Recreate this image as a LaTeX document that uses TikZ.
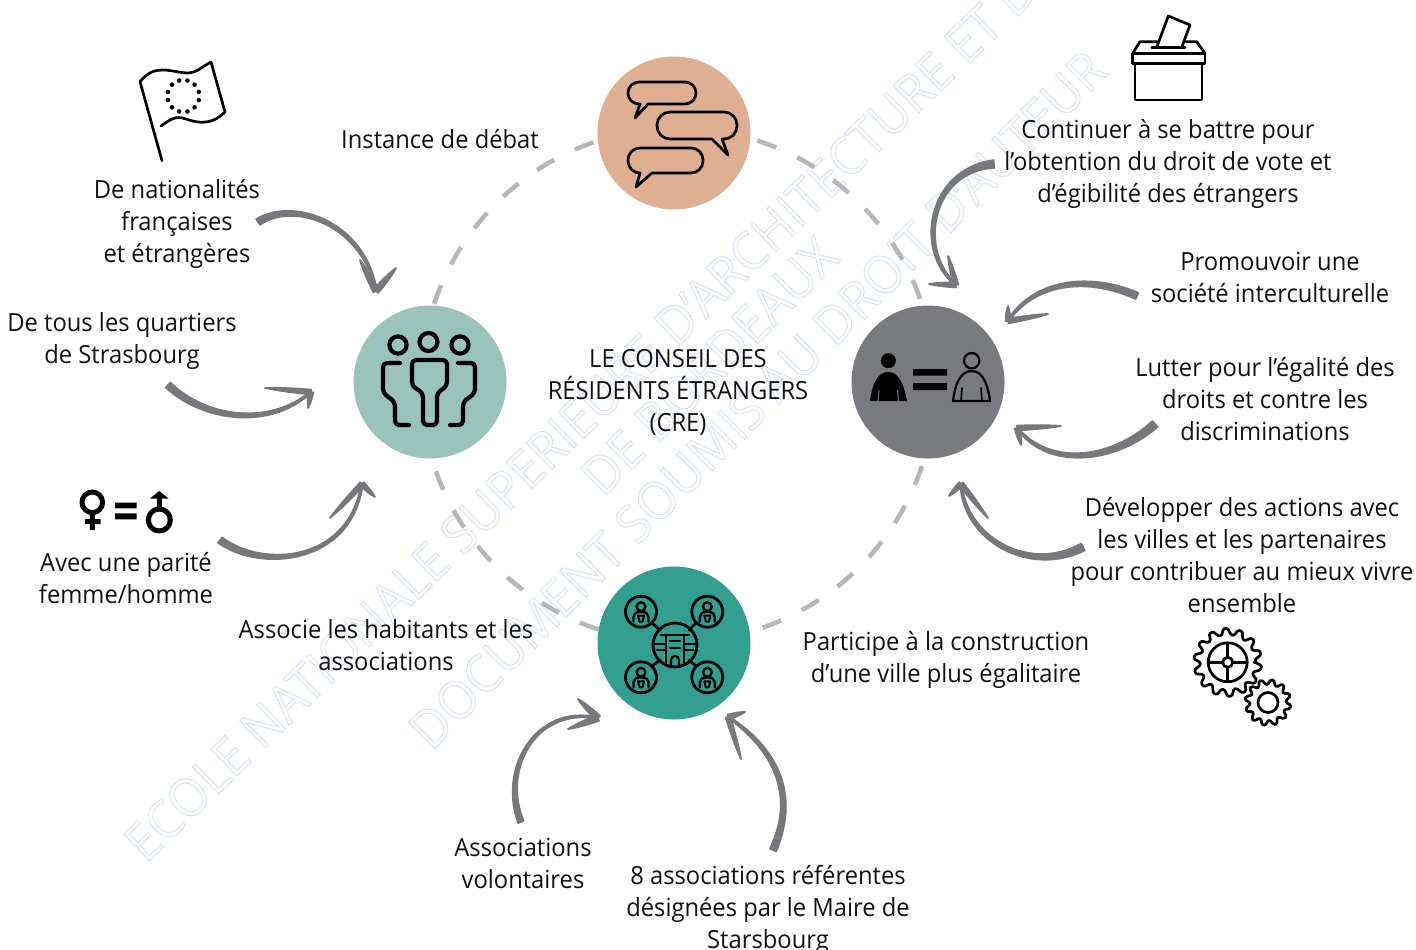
\documentclass[tikz,border=0pt]{standalone}
\usepackage{fontspec}
\setmainfont[FakeStretch=0.95]{Open Sans}
\usetikzlibrary{calc}
\definecolor{txt}{HTML}{111111}
\definecolor{brushc}{HTML}{76787C}
\definecolor{ringc}{HTML}{B7B7B7}
\definecolor{wm}{HTML}{D8E0FA}
\definecolor{topc}{HTML}{DEB091}
\definecolor{leftc}{HTML}{99C3BB}
\definecolor{rightc}{HTML}{787A7E}
\definecolor{botc}{HTML}{329E90}
\tikzset{
 label/.style={align=center,inner sep=0pt,text=txt,font=\fontsize{25}{32}\selectfont},
 hub/.style={circle,minimum size=153pt,inner sep=0pt},
 ring/.style={draw=ringc,line width=4.5pt,dash pattern=on 20pt off 23pt},
 icon/.style={draw=black,line width=2.7pt,line join=round,line cap=round},
 brush/.style={fill=brushc,draw=brushc,line width=1.6pt,line join=round},
 wmark/.style={inner sep=0pt,text=wm,font=\fontsize{52}{52}\selectfont,anchor=west},
}
\newcommand\outl[1]{\special{pdf:code 1 Tr 1 w}#1\special{pdf:code 0 Tr}}
% tapered brush stroke: start, control, control, tip, width at start, half width at tip
\newcommand\brushline[6]{%
 \pgfmathsetmacro\wa{#5/2}\pgfmathsetmacro\wb{#5*0.46}\pgfmathsetmacro\wc{#5*0.36}%
 \fill[brush] ($(#1)!\wa pt!90:(#2)$) .. controls ($(#2)!\wb pt!90:(#3)$) and ($(#3)!\wc pt!90:(#4)$) .. ($(#4)!#6pt!-90:(#3)$)
  -- ($(#4)!#6pt!90:(#3)$) .. controls ($(#3)!\wc pt!-90:(#4)$) and ($(#2)!\wb pt!-90:(#3)$) .. ($(#1)!\wa pt!-90:(#2)$) -- cycle;}
% arrow = body + two barbs
\newcommand\brusharrow[8]{%
 \brushline{#1}{#2}{#3}{#4}{#5}{0.8}%
 \brushline{#4}{$(#4)!.35!(#6)$}{$(#4)!.7!(#6)$}{#6}{#7}{0.1}%
 \brushline{#4}{$(#4)!.35!(#8)$}{$(#4)!.7!(#8)$}{#8}{#7}{0.1}}
\newcommand\netperson[1]{%
 \draw[icon,line width=2.4pt] (#1)++(0,-5) circle[radius=4.4];
 \draw[icon,line width=2.4pt,rounded corners=2] (#1)++(-7.5,10) -- ++(0,-7) -- ++(4,-3) -- ++(7,0) -- ++(4,3) -- ++(0,7);
 \draw[icon,line width=2pt] (#1)++(-3,4) -- ++(6,0) -- ++(-1.5,6) -- ++(-3,0) -- cycle;}
\newcommand\gearpath[5]{% centre, outer, root, teeth, fill
 \pgfmathsetmacro\st{360/#4}%
 \draw[icon,fill=#5,rounded corners=1.2pt] ([shift={(#1)}]0:#3)
 \foreach \i [evaluate=\i as \aa using {(\i-1+.22)*\st},evaluate=\i as \ab using {(\i-1+.5)*\st},evaluate=\i as \ac using {(\i-1+.78)*\st},evaluate=\i as \ad using {\i*\st}] in {1,...,#4}{
  -- ([shift={(#1)}]\aa:#2) -- ([shift={(#1)}]\ab:#2) -- ([shift={(#1)}]\ac:#3) -- ([shift={(#1)}]\ad:#3)
 } -- cycle;}
\begin{document}
\begin{tikzpicture}[x=1pt,y=-1pt]
\useasboundingbox (0,0) rectangle (1416,950);
\clip (0,0) rectangle (1416,950);
% watermark
\node[wmark,rotate=44.2] (wm1) at (133,851) {\outl{ECOLE NATIONALE SUPERIEURE D'ARCHITECTURE ET D}};
\node[wmark,rotate=45] (wm2) at (418,739) {\outl{DOCUMENT SOUMIS AU DROIT D'AUTEUR}};
\node[wmark,rotate=45] (wm3) at (590,485) {\outl{DE BORDEAUX}};
% ring
\coordinate (rc) at (678,385);
\foreach \a/\b in {198.4/252,288/341.6,18.4/72,108/161.6}
 \draw[ring] ([shift={(rc)}]\a:257) arc[start angle=\a,end angle=\b,radius=257];
% hubs
\node[hub,fill=topc] (debate) at (674,133) {};
\node[hub,fill=leftc] (people) at (430,382) {};
\node[hub,fill=rightc] (equal) at (928,382) {};
\node[hub,fill=botc] (network) at (674,643) {};
% debate icon
\draw[icon] (640,104) [rounded corners=11] -- (628,104) -- (628,82) -- (696,82) -- (696,104) [sharp corners] -- (648,104) -- (635,118) -- cycle;
\draw[icon] (712,139) [rounded corners=13] -- (657,139) -- (657,112) -- (737,112) -- (737,139) [sharp corners] -- (722,139) -- (728,155) -- cycle;
\draw[icon] (640,173) [rounded corners=12] -- (628,173) -- (628,148) -- (703,148) -- (703,173) [sharp corners] -- (652,173) -- (636,187) -- cycle;
% people icon
\begin{scope}[icon,line width=4.2pt]
\draw (398,345) circle[radius=8.6];
\draw (428.5,342) circle[radius=9];
\draw (460,345) circle[radius=8.6];
\draw[rounded corners=4] (412,360) -- (447,360) -- (447,386) -- (437,393) -- (437,425) -- (423,425) -- (423,393) -- (412,386) -- cycle;
\draw[rounded corners=4] (400,363) -- (383,363) -- (383,393) -- (395,402) -- (395,425) -- (409,425);
\draw[rounded corners=4] (458,363) -- (475,363) -- (475,393) -- (463,402) -- (463,425) -- (450,425);
\end{scope}
% equal icon
\fill (888.3,360.7) circle[radius=7.5];
\fill (870,401) .. controls (872,385) and (877,372) .. (888.3,372) .. controls (899,372) and (904,385) .. (907,401) -- cycle;
\draw[rightc,line width=1pt] (879,390) -- (878,401) (897.5,390) -- (898.5,401);
\fill (913,369) rectangle (947,375.5) (913,383) rectangle (947,390);
\draw[icon,line width=2.2pt] (971.7,360.7) circle[radius=7.7];
\draw[icon,line width=2.2pt] (953,401) .. controls (955,385) and (960,371) .. (971.7,371) .. controls (983,371) and (988,385) .. (990,401) -- cycle;
\draw[icon,line width=1.6pt] (962,388) -- (961,401) (981,388) -- (982,401);
% network icon
\begin{scope}[icon,line width=2.8pt]
\draw (675,645) circle[radius=22];
\draw (641,611.7) circle[radius=15.5] (707.3,611.7) circle[radius=15.5] (641,677.3) circle[radius=15.5] (707.3,677.3) circle[radius=15.5];
\draw (652,623) -- (660,630) (696,623) -- (689,630) (652,666) -- (660,660) (696,666) -- (689,660);
\draw[line width=2.2pt] (666,665) -- (666,635) -- (684,635) -- (684,665);
\draw[line width=2.2pt] (661,635) -- (689,635);
\draw[line width=2.2pt] (670,641) -- (680,641) (670,648) -- (680,648);
\draw[line width=2.2pt] (671,665) -- (671,660) arc[start angle=180,end angle=360,x radius=4,y radius=4] -- (679,665);
\draw[line width=2pt] (654,644) -- (666,644) (657,650) -- (666,650) (684,644) -- (696,644) (684,650) -- (693,650);
\end{scope}
\netperson{641,611.7}\netperson{707.3,611.7}\netperson{641,677.3}\netperson{707.3,677.3}
% flag icon
\begin{scope}[icon]
\draw (162,160.7) -- (140,81.7) .. controls (155,63) and (170,72) .. (187,73) .. controls (197,73) and (203,66) .. (211,62) -- (225,112) .. controls (210,127) and (195,122) .. (186,119) .. controls (175,115) and (170,120) .. (161,126);
\end{scope}
\foreach \a in {15,45,...,345} \fill ([shift={(183.3,96)}]\a:16) circle[radius=2.3];
% ballot box
\begin{scope}[icon]
\draw (1135,63.3) -- (1135,100) -- (1202,100) -- (1202,63.3);
\draw (1132.7,53.3) rectangle (1205,63.3);
\draw (1132.7,53.3) -- (1140,41.7) -- (1158,41.7);
\draw (1205,53.3) -- (1196.7,41.7) -- (1186,41.7);
\draw (1151.7,47.3) -- (1185,47.3);
\draw (1156.7,47.3) -- (1168.3,16) -- (1190,25) -- (1181.7,47.3);
\end{scope}
% gears
\gearpath{1268,702.5}{23}{18}{12}{white}
\gearpath{1227.7,662.3}{34}{27.5}{14}{white}
\begin{scope}[icon]
\draw (1227.7,662.3) circle[radius=19.5];
\draw (1227.7,662.3) circle[radius=5];
\draw (1227.7,643) -- (1227.7,657.3) (1227.7,667.3) -- (1227.7,681.6) (1208.4,662.3) -- (1222.7,662.3) (1232.7,662.3) -- (1247,662.3);
\draw (1268,702.5) circle[radius=10];
\end{scope}
% gender icon
\draw[icon,line width=5pt,line cap=butt] (92.3,502.3) circle[radius=10.3] (92.3,512.6) -- (92.3,530) (85,521.7) -- (100.7,521.7);
\fill (115,502.7) rectangle (136.7,508.3) (115,513.3) rectangle (136.7,519.3);
\draw[icon,line width=5pt,line cap=butt] (159.3,520) circle[radius=11] (159.3,509) -- (159.3,497);
\fill (150,498.5) -- (159.3,491) -- (168.5,498.5) -- cycle;
% arrow end points
\coordinate (a1s) at (258,222); \coordinate (a1t) at (376,291);
\coordinate (a2s) at (168,385); \coordinate (a2t) at (311,392);
\coordinate (a3s) at (220,540); \coordinate (a3t) at (362,484);
\coordinate (a4s) at (521,822); \coordinate (a4t) at (598,718);
\coordinate (a5s) at (773,850); \coordinate (a5t) at (728,717);
\coordinate (a6s) at (994,164); \coordinate (a6t) at (956,285);
\coordinate (a7s) at (1137,296); \coordinate (a7t) at (1008,321);
\coordinate (a8s) at (1155,424); \coordinate (a8t) at (1017,428);
\coordinate (a9s) at (1083,547); \coordinate (a9t) at (961,484);
\brusharrow{a1s}{295,198}{365,225}{a1t}{7}{396,268}{6}{360,260}
\brusharrow{a2s}{205,420}{270,428}{a2t}{7}{265,388}{5}{308,408}
\brusharrow{a3s}{260,570}{350,565}{a3t}{7}{330,518}{5}{375,497}
\brusharrow{a4s}{500,770}{535,705}{a4t}{6}{568,729}{6}{578,699}
\brusharrow{a5s}{800,790}{770,745}{a5t}{7}{741,759}{5}{745,712}
\brusharrow{a6s}{930,170}{915,250}{a6t}{8}{948,256}{5}{929,284}
\brusharrow{a7s}{1090,275}{1035,280}{a7t}{7}{1048,314}{5}{1008,306}
\brusharrow{a8s}{1115,460}{1050,470}{a8t}{8}{1061,426}{5}{1021,445}
\brusharrow{a9s}{1030,575}{965,540}{a9t}{8}{988,518}{5}{949,496}
% labels
\node[label] (t1) at (440,139) {Instance de débat};
\node[label] (t2) at (177,224) {De nationalités\\françaises\\et étrangères};
\node[label] (t3) at (122,341) {De tous les quartiers\\de Strasbourg};
\node[label] (t4) at (126,578) {Avec une parité\\femme/homme};
\node[label] (t5) at (386,645) {Associe les habitants et les\\associations};
\node[label] (t6) at (678,392) {LE CONSEIL DES\\RÉSIDENTS ÉTRANGERS\\(CRE)};
\node[label] (t7) at (1168,164) {Continuer à se battre pour\\l’obtention du droit de vote et\\d’égibilité des étrangers};
\node[label] (t8) at (1270,277) {Promouvoir une\\société interculturelle};
\node[label] (t9) at (1265,399) {Lutter pour l’égalité des\\droits et contre les\\discriminations};
\node[label] (t10) at (1242,555) {Développer des actions avec\\les villes et les partenaires\\pour contribuer au mieux vivre\\ensemble};
\node[label] (t11) at (946,660) {Participe à la construction\\d’une ville plus égalitaire};
\node[label] (t12) at (523,863) {Associations\\volontaires};
\node[label] (t13) at (768,910) {8 associations référentes\\désignées par le Maire de\\Starsbourg};
\end{tikzpicture}
\end{document}
